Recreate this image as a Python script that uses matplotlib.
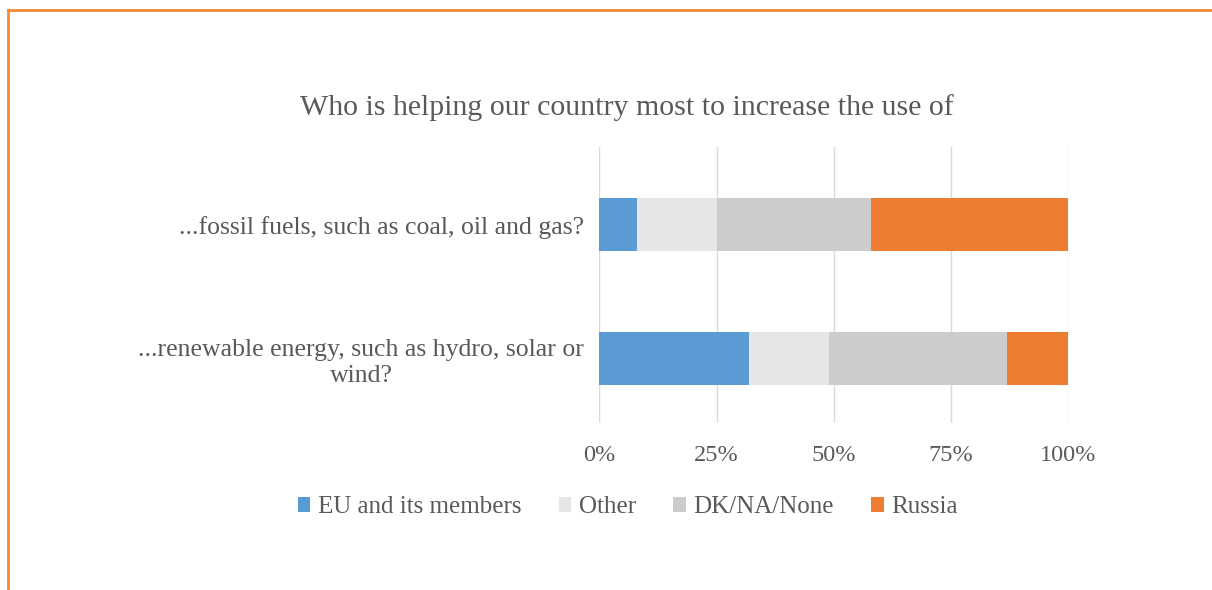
import matplotlib.pyplot as plt
from matplotlib.lines import Line2D
from matplotlib.ticker import FuncFormatter

# survey answers, share of respondents (%)
questions = ["...renewable energy, such as hydro, solar or\nwind?",
             "...fossil fuels, such as coal, oil and gas?"]
series = ["EU and its members", "Other", "DK/NA/None", "Russia"]
eu = [32, 8]
other = [17, 17]
dk = [38, 33]
russia = [13, 42]
colors = ["#5B9BD5", "#E6E6E6", "#CCCCCC", "#ED7D31"]

plt.rcParams['font.family'] = ['Liberation Serif', 'DejaVu Serif']
txt = "#595959"

fig = plt.figure(figsize=(12.12, 5.9), dpi=100)
ax = fig.add_axes([0.4946, 0.283, 0.3866, 0.468])

left = [0, 0]
for name, vals, col in zip(series, [eu, other, dk, russia], colors):
	ax.barh(range(len(questions)), vals, left=left, height=0.4, color=col, label=name, zorder=2)
	left = [a + b for a, b in zip(left, vals)]

ax.set_xlim(0, 100)
ax.set_ylim(-0.48, 1.58)
ax.set_xticks([0, 25, 50, 75, 100])
ax.xaxis.set_major_formatter(FuncFormatter(lambda v, p: "%d%%" % v))
ax.set_yticks(range(len(questions)))
ax.set_yticklabels(questions)
for lab in ax.get_yticklabels():
	lab.set_multialignment('center')
ax.tick_params(axis='both', length=0, labelcolor=txt)
ax.tick_params(axis='x', pad=16, labelsize=17.5)
ax.tick_params(axis='y', pad=11, labelsize=18.5)
ax.grid(axis='x', color="#D9D9D9", linewidth=1, zorder=0)
for s in ax.spines.values():
	s.set_visible(False)

fig.text(0.517, 0.818, "Who is helping our country most to increase the use of",
	ha='center', va='center', fontsize=21.5, color=txt)

ax.legend(loc='center', bbox_to_anchor=(0.518, 0.14), bbox_transform=fig.transFigure,
	ncol=4, frameon=False, fontsize=18, labelcolor=txt, handlelength=0.5,
	handleheight=0.5, handletextpad=0.3, columnspacing=1.5)

# orange frame (top and left edges)
orange = "#F58A2E"
fig.add_artist(Line2D([7.7 / 1212, 1], [1 - 9.5 / 590, 1 - 9.5 / 590], transform=fig.transFigure, color=orange, linewidth=2))
fig.add_artist(Line2D([7.7 / 1212, 7.7 / 1212], [0, 1 - 9.5 / 590], transform=fig.transFigure, color=orange, linewidth=2))

fig.savefig("out.png", dpi=100)
